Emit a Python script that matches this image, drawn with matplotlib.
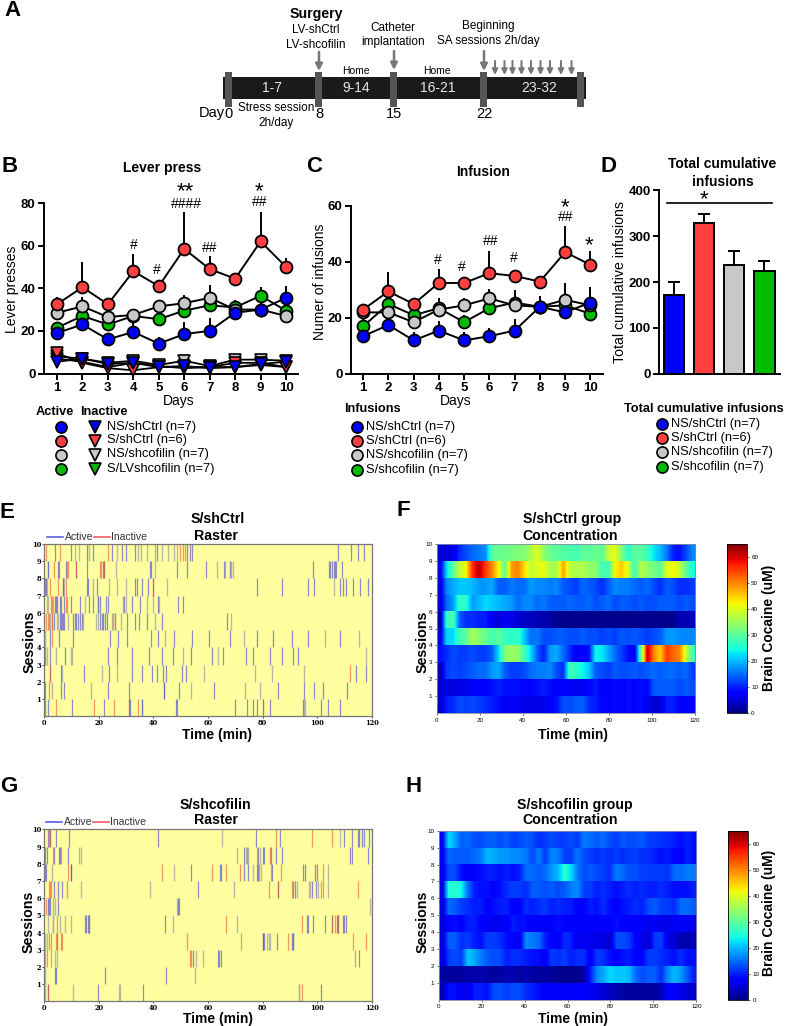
import numpy as np
import matplotlib
matplotlib.use('Agg')
import matplotlib.pyplot as plt

plt.rcParams['font.family'] = ['Liberation Sans', 'DejaVu Sans']

W, H = 789, 1026
days = np.arange(1, 11)
cBlue, cRed, cGray, cGreen = '#0000ff', '#ff4040', '#c8c8c8', '#00bb00'
groupColors = [cGreen, cGray, cRed, cBlue]

# B - lever press, order green, gray, red, blue
leverActive = [
    [21.5, 27, 23, 27, 25.5, 29.5, 32, 31, 36.5, 29.5],
    [28.5, 31.5, 26.5, 27.5, 31.5, 33, 35.5, 30, 30, 27],
    [32.5, 40.5, 32.5, 48, 41, 58.5, 49, 44.5, 62, 50],
    [19, 23, 16, 19.5, 14, 18.5, 20, 28.5, 30, 35.5],
]
leverActiveErr = [
    [2.5, 3, 2, 3, 2.5, 2.5, 3, 3.5, 4, 3.5],
    [2.5, 4.5, 1.5, 2.5, 1.5, 4, 6, 3, 4, 3],
    [3.5, 12, 2.5, 8, 2, 17.5, 6, 1.5, 14, 4],
    [2, 3, 3, 5.5, 3, 5.5, 6, 2.5, 3, 5.5],
]
leverInactive = [
    [7, 5.5, 3, 5, 3.5, 2.5, 3, 3, 4, 3],
    [8, 7, 5, 6, 4, 6, 3.5, 6.5, 6.5, 6],
    [9.5, 5, 2.5, 1.5, 3, 3, 3, 5, 5, 3],
    [5.5, 7, 4.5, 5, 3, 3.5, 2.5, 3, 4.5, 5.5],
]

# C - infusions
infusion = [
    [17, 25, 21, 23.5, 18.5, 23.5, 25.5, 24, 24.5, 21.5],
    [22, 22, 18.5, 23, 24.5, 27, 24.5, 24, 26.5, 24.5],
    [23, 29.5, 25, 32.5, 32.5, 36, 35, 33, 43.5, 39],
    [13.5, 17.5, 12, 15.5, 12, 13.5, 15.5, 24, 22, 25.5],
]
infusionErr = [
    [3, 2.5, 3, 2.5, 2.5, 2.5, 2.5, 2, 2.5, 3.5],
    [3, 3, 2.5, 4, 2.5, 3.5, 5.5, 4, 6, 5.5],
    [2, 7, 2, 5, 1.5, 8, 2, 1, 9.5, 5],
    [1.5, 2.5, 3, 3.5, 3, 3, 4, 4, 2, 5.5],
]

# D - totals
totalVals = [172, 330, 237, 225]
totalErr = [28, 19, 31, 20]
totalColors = [cBlue, cRed, cGray, cGreen]
groupNames = ['NS/shCtrl (n=7)', 'S/shCtrl (n=6)', 'NS/shcofilin (n=7)', 'S/shcofilin (n=7)']
leverNames = ['NS/shCtrl (n=7)', 'S/shCtrl (n=6)', 'NS/shcofilin (n=7)', 'S/LVshcofilin (n=7)']

# E raster, event times (min) per session, session row 0 first
eActive = [
    [0.2, 1.5, 10.3, 22, 31.2, 31.5, 35.7, 48.3, 48.6, 70, 74.2, 76.6, 78.1, 80.3, 82.8, 95, 101.3, 103.9, 108.2],
    [0.2, 6.1, 7.2, 23.5, 31, 44, 44.05, 49.5, 62.2, 85.5, 95.2, 98.9, 102, 110.9],
    [2.1, 6.1, 14.7, 23.8, 32, 35.7, 39.6, 41.2, 43.6, 44.6, 50.4, 52, 114.3, 118],
    [0.2, 2.1, 7.6, 23.5, 26.8, 32, 38.5, 43.3, 47.3, 53.8, 61.4, 65.4, 74, 76.6, 82.8, 87, 91.3, 92.9],
    [2.1, 5.4, 10.6, 24.2, 27.1, 30.4, 39.1, 41.8, 47.6, 54.3, 60.4, 68.1, 78.1, 84, 90.7, 96.8, 108.4],
    [3.5, 5.7, 6.1, 6.5, 6.9, 7.3, 10.6, 11.2, 11.8, 12.5, 13.1, 13.7, 20.4, 21, 21.6, 22.3, 22.9, 30.4, 33.3, 34.8, 37.5, 43, 67.1],
    [3.9, 4.3, 4.8, 5.7, 6.3, 7.3, 9.8, 13.1, 16.5, 18, 19.8, 20.4, 22.6, 23.5, 29.2, 32.3, 35, 41.8, 49.1, 50.7],
    [0.2, 0.6, 7, 15.5, 15.9, 19.2, 33.3, 33.9, 35.7, 38.1, 39.7, 78.1, 87.3, 96.8, 98.9, 108.2, 109.4, 110.5, 113, 115.8, 118.5],
    [1.5, 5.1, 5.5, 7.9, 11.6, 15.8, 21.6, 21.9, 38.8, 39, 48.5, 52.4, 59.3, 65.9, 68.1, 98.4, 104.2, 104.8, 105.4, 106, 106.6, 107, 109],
    [3.9, 9.8, 15.5, 17.7, 24.9, 28.4, 30, 33.3, 41.2, 52.4, 53.4, 54.3, 107.5, 112.3, 114.8, 117],
]
eOther = [
    [35.7, 95.2, 95.7],
    [3, 17, 53.8, 73.6, 79.2],
    [6.5, 21.3, 26.8, 58.6, 77.3, 83.4, 95.2],
    [0.9, 4.3, 9.7, 10.2, 51, 63.8, 117.8],
    [0.2, 44.4, 73.2, 102.9, 115.4],
    [2.1, 3, 4.5, 5.1, 8.8, 14.3, 18.9, 19.8, 24.7, 25.9, 28.1, 40.6, 68.5],
    [0.9, 1.5, 3.3, 14.9, 19.8, 29, 30, 37.5, 40, 42.2],
    [0.9, 6.7, 7.3, 18, 23.8, 26.5, 30, 44.9, 106],
    [1.5, 26.3, 40.6, 63.2, 66.3, 68.5, 69],
    [11.2, 12.8, 16.5, 26.5, 34.5, 35.3, 37.5, 40.6, 43, 45.5, 47.6, 48.5],
]
eInactive = [
    [4.2, 18.3, 25.7, 31.2, 34.5, 80.3],
    [1.8],
    [2.1, 111.9],
    [],
    [2.9],
    [0.6, 1.2, 1.8, 2.7, 25.3, 25.9],
    [2.3, 2.9, 7.9, 8.2],
    [2.1, 5.1, 7.9, 40],
    [3.7, 8.2, 8.8, 11.6, 20.4, 20.8, 21.9],
    [0.5, 5.7, 23.2, 49.8, 50.7, 51.6],
]

# G raster
gActive = [
    [1.2, 19.8, 36.3, 101.6],
    [3.9, 4.3, 22.4, 44.7],
    [54.4, 63.8, 64.2, 64.7, 115.5],
    [4.5, 80.1, 80.3, 80.7, 85.4, 90.7, 91.3],
    [14.8, 15.2, 16, 16.4, 44.3, 96.2, 96.8, 98.4, 103, 105.6, 107.2, 107.8, 109.4, 109.9, 110.4],
    [1.2, 1.6, 2, 5.1, 49.1, 49.4],
    [3.7, 5.1, 6.6, 56.5, 85.6, 91.1, 91.9, 98, 99.6],
    [0.2, 0.5, 9.7, 9.9, 53.9, 64.4, 64.8, 73.3, 74.8, 78.1, 78.5, 83.4, 94.7, 95.4, 99.4, 99.9],
    [0.2, 0.9, 3.7, 5.5, 5.9, 8.8, 73.3, 78.5, 80.3, 80.7, 83.1, 85, 87.3, 112.1, 112.7, 118.5],
    [1.5, 2, 4.3, 9.2, 41.8, 77.5, 86.4, 110, 112.7, 114.8, 115.5, 116.4, 117.2, 118.9],
]
gOther = [
    [0.2, 10.6, 27.5, 27.9, 93.2, 93.5],
    [0.2, 55.4],
    [0.2, 4, 4.8, 55.5, 58.3],
    [0.2, 0.9, 81.5, 82.2, 82.8, 91],
    [1.5, 3.1, 3.3, 5.7, 7.6, 9.9, 47, 70.8],
    [3.3, 3.9, 48.5, 119.4],
    [13.4, 38.8, 69.6, 92.5, 97.2, 97.5, 100.5, 103.8],
    [2.7, 47.6, 76.6, 79.3, 103.8],
    [12.8, 13.3, 70.8, 73.8, 74.8, 79.1],
    [65, 108.4],
]
gInactive = [
    [1.5, 94.6],
    [],
    [0.9, 2.3, 53.5, 53.8, 114],
    [1.8, 2.3, 4.3, 6.2, 6.6, 52.4, 72, 89.5, 113, 117.8],
    [4.8, 16.5, 66.6, 94.4, 105.5, 106.6, 107.7],
    [0.6],
    [1.8, 2, 2.3, 8.4, 82.2, 85.6, 90.9, 101.6, 102, 114.8],
    [8.8, 43.3, 61.6, 66.6, 71.9, 78.8, 83, 86.8, 102.1],
    [3.3, 6.2, 74.4, 78.1, 82.8],
    [1.8, 2.2, 84.8, 98.3, 105.5],
]

# F heat map, brain cocaine in 3 min bins, session row 9 first
fConc = [
    [5, 5, 6, 11, 13, 15, 16, 17, 30, 31, 31, 32, 33, 33, 36, 40, 34, 31, 30, 29, 29, 28, 30, 30, 31, 30, 38, 41, 33, 26, 30, 30, 27, 23, 20, 16, 10, 9, 13, 17],
    [6, 22, 30, 38, 42, 56, 62, 55, 50, 42, 30, 48, 50, 44, 38, 40, 41, 36, 36, 48, 38, 36, 37, 34, 34, 28, 28, 42, 45, 40, 27, 37, 34, 32, 30, 40, 42, 38, 30, 25],
    [5, 17, 19, 21, 21, 20, 18, 18, 19, 14, 14, 16, 15, 15, 18, 17, 17, 16, 17, 14, 13, 12, 15, 14, 13, 11, 14, 17, 16, 16, 15, 14, 15, 13, 11, 14, 13, 11, 11, 12],
    [5, 15, 18, 27, 26, 18, 20, 22, 21, 20, 19, 18, 15, 17, 17, 15, 16, 14, 14, 14, 15, 14, 14, 15, 13, 14, 15, 13, 14, 14, 13, 14, 13, 13, 14, 14, 14, 13, 14, 13],
    [2, 27, 29, 14, 11, 11, 10, 10, 7, 5, 7, 6, 5, 4, 4, 3, 3, 2, 1, 1, 1, 1, 1, 1, 1, 1, 1, 1, 1, 1, 1, 1, 1, 1, 1, 1, 1, 3, 3, 4],
    [5, 22, 22, 28, 30, 36, 33, 31, 28, 30, 27, 26, 27, 21, 15, 16, 13, 13, 14, 14, 13, 13, 14, 13, 13, 12, 13, 12, 14, 13, 14, 13, 12, 13, 14, 18, 18, 17, 17, 17],
    [9, 11, 13, 12, 12, 13, 12, 12, 14, 22, 33, 35, 34, 28, 22, 14, 10, 18, 19, 15, 11, 7, 8, 9, 24, 23, 19, 15, 12, 9, 6, 30, 62, 50, 45, 55, 52, 50, 38, 28],
    [3, 12, 13, 12, 13, 14, 15, 15, 18, 19, 14, 12, 12, 13, 15, 16, 16, 17, 13, 11, 28, 26, 24, 21, 14, 13, 12, 14, 13, 13, 14, 13, 14, 15, 14, 15, 15, 14, 15, 12],
    [4, 6, 5, 6, 6, 7, 8, 7, 9, 10, 9, 9, 9, 8, 8, 9, 10, 9, 7, 8, 8, 6, 7, 8, 10, 7, 8, 9, 7, 9, 8, 9, 8, 14, 14, 14, 14, 13, 14, 13],
    [4, 10, 11, 13, 12, 13, 12, 11, 10, 9, 7, 7, 7, 6, 6, 6, 6, 8, 9, 13, 13, 14, 14, 11, 10, 8, 8, 9, 7, 9, 8, 9, 6, 5, 5, 10, 10, 8, 8, 8],
]
# H heat map
hConc = [
    [7, 22, 19, 14, 15, 13, 13, 14, 14, 13, 14, 12, 13, 14, 13, 11, 12, 13, 12, 12, 13, 12, 16, 15, 14, 15, 13, 12, 14, 13, 13, 14, 12, 12, 11, 11, 10, 9, 10, 9],
    [7, 15, 14, 14, 14, 15, 16, 20, 19, 18, 18, 17, 17, 16, 13, 16, 12, 17, 16, 12, 12, 16, 13, 12, 11, 12, 11, 12, 11, 12, 12, 11, 11, 10, 9, 10, 8, 8, 10, 9],
    [6, 13, 13, 9, 7, 8, 9, 10, 10, 9, 10, 9, 10, 15, 15, 14, 15, 18, 20, 26, 22, 16, 13, 14, 13, 12, 11, 16, 15, 13, 13, 12, 12, 12, 12, 11, 15, 15, 16, 16],
    [5, 25, 26, 24, 15, 10, 9, 9, 8, 9, 11, 12, 12, 11, 14, 14, 13, 14, 13, 14, 16, 17, 12, 12, 10, 11, 10, 9, 10, 11, 10, 11, 10, 10, 11, 10, 9, 9, 9, 10],
    [5, 15, 14, 12, 11, 10, 10, 8, 9, 10, 10, 8, 8, 11, 10, 11, 12, 10, 11, 10, 10, 8, 8, 10, 9, 11, 9, 8, 9, 10, 11, 10, 13, 14, 12, 12, 11, 15, 15, 14],
    [5, 8, 9, 8, 10, 10, 8, 7, 6, 7, 7, 10, 9, 9, 7, 8, 7, 7, 9, 8, 8, 7, 7, 8, 7, 7, 8, 9, 8, 7, 8, 8, 6, 7, 6, 6, 7, 7, 7, 6],
    [5, 14, 14, 11, 12, 10, 9, 12, 12, 11, 9, 8, 6, 17, 16, 15, 10, 8, 7, 11, 10, 6, 7, 6, 6, 6, 4, 13, 13, 12, 8, 6, 5, 12, 12, 6, 5, 3, 3, 3],
    [5, 12, 13, 12, 21, 19, 16, 14, 13, 13, 10, 11, 11, 10, 9, 9, 7, 12, 11, 12, 10, 11, 11, 7, 12, 11, 9, 8, 9, 10, 8, 8, 12, 12, 11, 10, 9, 11, 9, 9],
    [2, 2, 2, 2, 3, 2, 3, 2, 2, 2, 3, 3, 2, 3, 2, 2, 2, 2, 1, 1, 1, 1, 2, 10, 17, 19, 22, 21, 21, 20, 15, 13, 14, 14, 11, 17, 20, 18, 14, 10],
    [3, 9, 9, 7, 6, 10, 10, 9, 13, 13, 12, 13, 13, 11, 10, 9, 7, 7, 8, 8, 7, 8, 7, 7, 6, 5, 4, 3, 2, 2, 2, 2, 2, 2, 3, 8, 7, 6, 5, 4],
]

fig = plt.figure(figsize=(W / 100, H / 100), dpi=100)


def axPx(l, t, r, b, **kw):
    return fig.add_axes([l / W, 1 - b / H, (r - l) / W, (b - t) / H], **kw)


# overlay in pixel coordinates for the diagram, labels and legends
ov = axPx(0, 0, W, H, zorder=10)
ov.set_xlim(0, W)
ov.set_ylim(H, 0)
ov.axis('off')
ov.patch.set_alpha(0)


def txt(x, y, s, size=9, weight='normal', color='k', ha='center', **kw):
    ov.text(x, y, s, fontsize=size, fontweight=weight, color=color, ha=ha, va='center', **kw)


def styleAxis(ax):
    for s in ['top', 'right']:
        ax.spines[s].set_visible(False)
    for s in ['left', 'bottom']:
        ax.spines[s].set_linewidth(1.4)
    ax.tick_params(width=1.4, length=4, labelsize=9.5, pad=2)
    for lab in ax.get_xticklabels() + ax.get_yticklabels():
        lab.set_fontweight('bold')


def lineGroups(ax, vals, errs):
    for v, e, c in zip(vals, errs, groupColors):
        ax.errorbar(days, v, yerr=[np.zeros(10), e], color='k', lw=1.4, elinewidth=1.4, capsize=0, zorder=3)
        ax.plot(days, v, 'o', mfc=c, mec='k', mew=1.3, ms=8.6, zorder=4, clip_on=False)


# A
ov.add_patch(plt.Rectangle((223, 77), 363, 21.5, color='#1a1a1a', lw=0))
for x in [229, 319, 394, 484, 581]:
    ov.add_patch(plt.Rectangle((x - 3.5, 72), 7, 35, color='#555555', lw=0))
for x, y0, y1 in [(319, 52, 71), (394, 51, 70), (484, 51, 71)]:
    ov.annotate('', xy=(x, y1), xytext=(x, y0), arrowprops=dict(arrowstyle='-|>', color='#777777', lw=1.8, mutation_scale=10, shrinkA=0, shrinkB=0))
for x in [495, 504.5, 512.5, 521.5, 531, 540.5, 550, 561, 571.5]:
    ov.annotate('', xy=(x, 75), xytext=(x, 61), arrowprops=dict(arrowstyle='-|>', color='#777777', lw=1.5, mutation_scale=8, shrinkA=0, shrinkB=0))
txt(316.5, 14, 'Surgery', 10.2, 'bold')
txt(316, 30, 'LV-shCtrl', 8.5)
txt(316, 45, 'LV-shcofilin', 8.5)
txt(393, 28, 'Catheter', 8.5)
txt(393, 42.5, 'implantation', 8.5)
txt(488, 26, 'Beginning', 8.5)
txt(488, 41, 'SA sessions 2h/day', 8.5)
txt(356, 71.5, 'Home', 7.5)
txt(437, 71.5, 'Home', 7.5)
for x, s in [(272, '1-7'), (356, '9-14'), (438, '16-21'), (539, '23-32')]:
    txt(x, 88, s, 10, color='#e8e8e8')
txt(276, 108, 'Stress session', 8.5)
txt(276, 123, '2h/day', 8.5)
txt(212, 113.5, 'Day', 10.5)
for x, s in [(229, '0'), (319, '8'), (394, '15'), (484, '22')]:
    txt(x, 114.5, s, 10.5)

# B
axB = axPx(44, 186, 298, 373.5)
lineGroups(axB, leverActive, leverActiveErr)
for v, c in zip(leverInactive, groupColors):
    axB.plot(days, v, '-v', color='k', mfc=c, mec='k', mew=1.2, ms=8.5, lw=1.3, zorder=5, clip_on=False)
axB.set_xlim(0.49, 10.47)
axB.set_ylim(0, 88)
axB.set_xticks(days)
axB.set_yticks([0, 20, 40, 60, 80])
axB.spines['left'].set_bounds(0, 80)
styleAxis(axB)

# C
axC = axPx(351, 190, 603, 374)
lineGroups(axC, infusion, infusionErr)
axC.set_xlim(0.52, 10.5)
axC.set_ylim(0, 65.7)
axC.set_xticks(days)
axC.set_yticks([0, 20, 40, 60])
axC.spines['left'].set_bounds(0, 60)
styleAxis(axC)

# D
axD = axPx(659, 185, 780, 373.7)
xD = np.arange(4)
axD.bar(xD, totalVals, width=0.68, color=totalColors, edgecolor='k', linewidth=1.4, zorder=3)
axD.errorbar(xD, totalVals, yerr=[np.zeros(4), totalErr], fmt='none', ecolor='k', elinewidth=1.4, capsize=4, capthick=1.4, zorder=2)
axD.set_xlim(-0.5, 3.52)
axD.set_ylim(0, 412)
axD.set_xticks([])
axD.set_yticks([0, 100, 200, 300, 400])
axD.spines['left'].set_bounds(0, 400)
styleAxis(axD)

# labels of the top row
txt(162, 168, 'Lever press', 10, 'bold')
txt(483, 171.5, 'Infusion', 10, 'bold')
txt(722.5, 164.5, 'Total cumulative', 10, 'bold')
txt(722.5, 181.5, 'infusions', 10, 'bold')
txt(12, 289, 'Lever presses', 10, rotation=90)
txt(320, 282, 'Numer of infusions', 10, rotation=90)
txt(620.5, 282, 'Total cumulative infusions', 10.2, rotation=90)
txt(179, 401.5, 'Days', 10)
txt(456, 401.5, 'Days', 10)
for x, y, s in [(134, 245, '#'), (157, 270, '#'), (186.5, 204, '####'), (210, 248, '##'), (259.5, 202, '##'),
                (437.5, 260, '#'), (462, 267, '#'), (490.5, 241, '##'), (514, 258, '#'), (565.5, 217, '##')]:
    txt(x, y, s, 10)
for x, y, s in [(185, 187, '**'), (259.5, 187, '*'), (565.5, 203, '*'), (589, 241, '*')]:
    txt(x, y + 5, s, 16)
ov.plot([667, 772.5], [202.7, 202.7], color='k', lw=1.2)
txt(704, 200, '*', 16)

# legends
lc = [cBlue, cRed, cGray, cGreen]
txt(55, 412, 'Active', 9.2, 'bold')
txt(103.5, 412, 'Inactive', 9.2, 'bold')
for y, c, s in zip([427, 440.5, 454.5, 469], lc, leverNames):
    ov.plot(61.5, y, 'o', mfc=c, mec='k', mew=1.2, ms=8)
    ov.plot(95.5, y, 'v', mfc=c, mec='k', mew=1.2, ms=8.5)
    txt(107, y, s, 9.3, ha='left')
txt(372, 409, 'Infusions', 9.2, 'bold')
for y, c, s in zip([427, 441, 455, 470], lc, groupNames):
    ov.plot(357, y, 'o', mfc=c, mec='k', mew=1.2, ms=8)
    txt(366.5, y, s, 9.3, ha='left')
txt(703.5, 409, 'Total cumulative infusions', 9.2, 'bold')
for y, c, s in zip([424, 438, 452, 467], lc, groupNames):
    ov.plot(662, y, 'o', mfc=c, mec='k', mew=1.2, ms=8)
    txt(671, y, s, 9.3, ha='left')


def raster(box, active, other, inactive):
    ax = axPx(*box)
    ax.set_facecolor('#ffffa0')
    for i in range(10):
        ax.vlines(other[i], i, i + 1, color='#a8a8a8', lw=1.0, alpha=0.8)
        ax.vlines(active[i], i, i + 1, color='#5050d8', lw=0.9, alpha=0.65)
        ax.vlines(inactive[i], i, i + 1, color='#f05030', lw=0.9, alpha=0.6)
    ax.set_xlim(0, 120)
    ax.set_ylim(0, 10)
    ax.set_xticks(range(0, 121, 20))
    ax.set_yticks(range(1, 11))
    ax.tick_params(labelsize=4.8, length=1.2, width=0.5, pad=1)
    for lab in ax.get_xticklabels() + ax.get_yticklabels():
        lab.set_fontweight('bold')
        lab.set_family('DejaVu Serif')
    for s in ax.spines.values():
        s.set_color('#777777')
        s.set_linewidth(0.9)
    return ax


def heat(box, cbox, conc):
    ax = axPx(*box)
    edges = np.linspace(0, 120, 41)
    centers = (edges[:-1] + edges[1:]) / 2
    for i, row in enumerate(conc):
        y = 9 - i
        im = ax.imshow(np.array(row, dtype=float)[None, :], aspect='auto', cmap='jet', vmin=0, vmax=65,
                       interpolation='bilinear', extent=[centers[0] - 1.5, centers[-1] + 1.5, y, y + 1])
    ax.set_xlim(0, 120)
    ax.set_ylim(0, 10)
    ax.set_xticks(range(0, 121, 20))
    ax.set_yticks(range(1, 11))
    ax.tick_params(labelsize=4.5, length=1.2, width=0.4, pad=2)
    for s in ax.spines.values():
        s.set_color('#8888aa')
        s.set_linewidth(0.6)
    cax = axPx(*cbox)
    cb = fig.colorbar(im, cax=cax)
    cb.set_ticks([0, 10, 20, 30, 40, 50, 60])
    cb.ax.tick_params(labelsize=4.5, length=1.2, width=0.4, pad=2)
    cb.outline.set_linewidth(0.6)
    return ax


raster((44.3, 544, 371.7, 716.3), eActive, eOther, eInactive)
raster((44.3, 829.3, 371.7, 1001.3), gActive, gOther, gInactive)
heat((436.7, 543.7, 695, 713.3), (726.7, 543.7, 746.7, 713.3), fConc)
heat((438.7, 830.7, 696.3, 1000), (728.3, 830.7, 748.3, 1000), hConc)

# raster legends
for y, x0, x1, x2 in [(537, 47.5, 63, 94), (822, 46, 62, 93)]:
    ov.plot([x0, x1], [y, y], color='#5050e0', lw=1.1)
    txt(x1 + 1.5, y, 'Active', 7.5, color='#333333', ha='left')
    ov.plot([x2, x2 + 16], [y, y], color='#f05050', lw=1.1)
    txt(x2 + 17.5, y, 'Inactive', 7.5, color='#333333', ha='left')

# titles and axis labels of the rows below
txt(217.5, 519, 'S/shCtrl', 10.2, 'bold')
txt(216, 536, 'Raster', 10.2, 'bold')
txt(572.5, 519.5, 'S/shCtrl group', 10.2, 'bold')
txt(570, 536, 'Concentration', 10.2, 'bold')
txt(215.5, 805, 'S/shcofilin', 10.2, 'bold')
txt(215.5, 820.5, 'Raster', 10.2, 'bold')
txt(575, 805, 'S/shcofilin group', 10.2, 'bold')
txt(570, 820.5, 'Concentration', 10.2, 'bold')
for x, y in [(217, 735), (573, 735), (218, 1018.5), (573, 1018.5)]:
    txt(x, y, 'Time (min)', 10, 'bold')
for x, y in [(30, 641.5), (422.5, 641.5), (29, 921.5), (422.5, 921.5)]:
    txt(x, y, 'Sessions', 10.3, 'bold', rotation=90)
for y in [628, 913]:
    txt(769, y, 'Brain Cocaine (uM)', 10, 'bold', rotation=90)

# panel letters
for x, y, s in [(13, 10, 'A'), (10, 167, 'B'), (314, 167, 'C'), (609, 167, 'D'),
                (7, 513, 'E'), (403, 510, 'F'), (9, 787, 'G'), (414, 787, 'H')]:
    txt(x, y, s, 16, 'bold')

plt.savefig('out.png', dpi=100)
